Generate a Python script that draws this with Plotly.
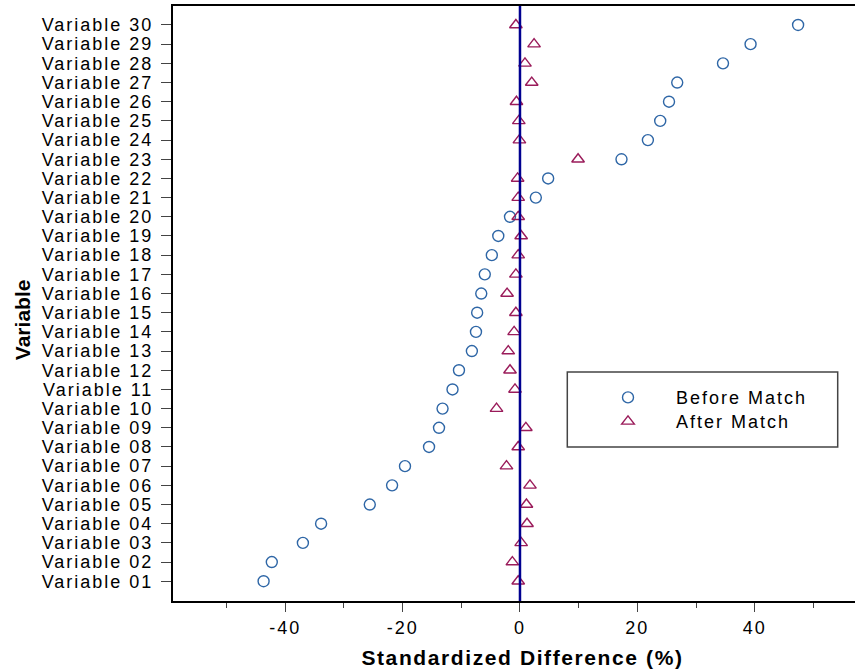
import plotly.graph_objects as go

variables = [f"Variable {i:02d}" for i in range(1, 31)]
before_match = [-43.7, -42.3, -37.0, -33.9, -25.6, -21.8, -19.6, -15.5, -13.8, -13.2,
                -11.5, -10.4, -8.2, -7.5, -7.3, -6.6, -6.0, -4.8, -3.7, -1.7,
                2.7, 4.8, 17.3, 21.8, 23.9, 25.4, 26.8, 34.6, 39.3, 47.4]
after_match = [-0.3, -1.3, 0.2, 1.2, 1.1, 1.7, -2.3, -0.3, 1.0, -4.0,
               -0.85, -1.7, -2.0, -1.0, -0.7, -2.2, -0.7, -0.3, 0.2, -0.3,
               -0.3, -0.4, 9.9, -0.1, -0.2, -0.6, 2.0, 0.85, 2.4, -0.7]
x_tickvals = [-40, -20, 0, 20, 40]
x_ticktext = ["-40", "-20", "0", "20", "40"]
x_minor = [-50, -30, -10, 10, 30, 50]

FONT = "Liberation Sans, Arial, sans-serif"
PAD = "\u00a0" * 4

fig = go.Figure()
fig.add_trace(go.Scatter(
    x=before_match, y=variables, mode="markers", name=PAD + "Before Match", legend="legend",
    marker=dict(symbol="circle-open", size=11, color="#2E66A6", line=dict(width=1.4)),
))
fig.add_trace(go.Scatter(
    x=after_match, y=variables, mode="markers", name=PAD + "After Match", legend="legend2",
    marker=dict(symbol="triangle-up-open", size=11, color="#9A1B5A", line=dict(width=1.4)),
))

fig.add_shape(type="line", xref="x", yref="paper", x0=0, x1=0, y0=0, y1=1,
              line=dict(color="#000090", width=2.5))
# legend frame
fig.add_shape(type="rect", xref="paper", yref="paper",
              x0=(567.3 - 173) / 682, x1=(837.7 - 173) / 682,
              y0=(600.7 - 446.7) / 594.7, y1=(600.7 - 371.7) / 594.7,
              line=dict(color="#444444", width=1.5), fillcolor="rgba(0,0,0,0)")

fig.add_annotation(text="<b>Standardized Difference (%)</b>", xref="paper", yref="paper",
                   x=(522.5 - 173) / 682, y=(600.7 - 657) / 594.7, showarrow=False,
                   xanchor="center", yanchor="middle",
                   font=dict(family=FONT, size=21, color="black"))
fig.add_annotation(text="<b>Variable</b>", xref="paper", yref="paper",
                   x=(22 - 173) / 682, y=(600.7 - 320) / 594.7, showarrow=False,
                   textangle=-90, xanchor="center", yanchor="middle",
                   font=dict(family=FONT, size=21, color="black"))

leg_common = dict(xanchor="left", yanchor="top", bgcolor="rgba(0,0,0,0)", borderwidth=0,
                  font=dict(family=FONT, size=18, color="black"))

fig.update_layout(
    width=855, height=670,
    margin=dict(l=173, r=0, t=6, b=69),
    paper_bgcolor="white", plot_bgcolor="white",
    font=dict(family=FONT, size=18, color="black"),
    showlegend=True,
    legend=dict(x=(608 - 173) / 682, y=(600.7 - 379) / 594.7, **leg_common),
    legend2=dict(x=(608 - 173) / 682, y=(600.7 - 403) / 594.7, **leg_common),
    xaxis=dict(range=[-59.14, 57.10], showgrid=False, zeroline=False,
               showline=True, linecolor="black", linewidth=2, mirror=True,
               tickmode="array", tickvals=x_tickvals, ticktext=x_ticktext,
               ticks="outside", ticklen=9, tickwidth=1.3, tickcolor="#444444",
               minor=dict(tickmode="array", tickvals=x_minor, ticks="outside",
                          ticklen=5, tickwidth=1.3, tickcolor="#444444", showgrid=False),
               tickfont=dict(family=FONT, size=18, color="black")),
    yaxis=dict(type="category", categoryorder="array", categoryarray=variables,
               tickmode="array", tickvals=variables, ticktext=variables,
               range=[-1.03, 29.99], showgrid=False, zeroline=False,
               showline=True, linecolor="black", linewidth=2, mirror=False,
               ticks="outside", ticklen=10, tickwidth=1.3, tickcolor="#444444",
               ticklabelstandoff=4,
               tickfont=dict(family=FONT, size=18, color="black")),
)

post = """
var st=document.createElement('style');
st.textContent='html,body{margin:0;padding:0;overflow:hidden}'+
 '.xtick text,.ytick text,text.legendtext,g.legend text,g.legend2 text{letter-spacing:2px !important}'+
 'g.scrollbox{clip-path:none !important}'+
 'g.annotation[data-index="0"] text{letter-spacing:1.6px}';
document.head.appendChild(st);
var gd=document.getElementsByClassName('plotly-graph-div')[0];
function ls(){
  var t=gd.querySelectorAll('.infolayer [class^="legend"] text, text.legendtext');
  for(var i=0;i<t.length;i++){t[i].style.letterSpacing='2px';}
  var s=gd.querySelectorAll('.infolayer g.scrollbox');
  for(var j=0;j<s.length;j++){s[j].removeAttribute('clip-path');}
}
ls();
if(gd.on){gd.on('plotly_afterplot',ls);}
setTimeout(ls,50);
"""
fig.write_html("out.html", post_script=post, config={"displayModeBar": False})
